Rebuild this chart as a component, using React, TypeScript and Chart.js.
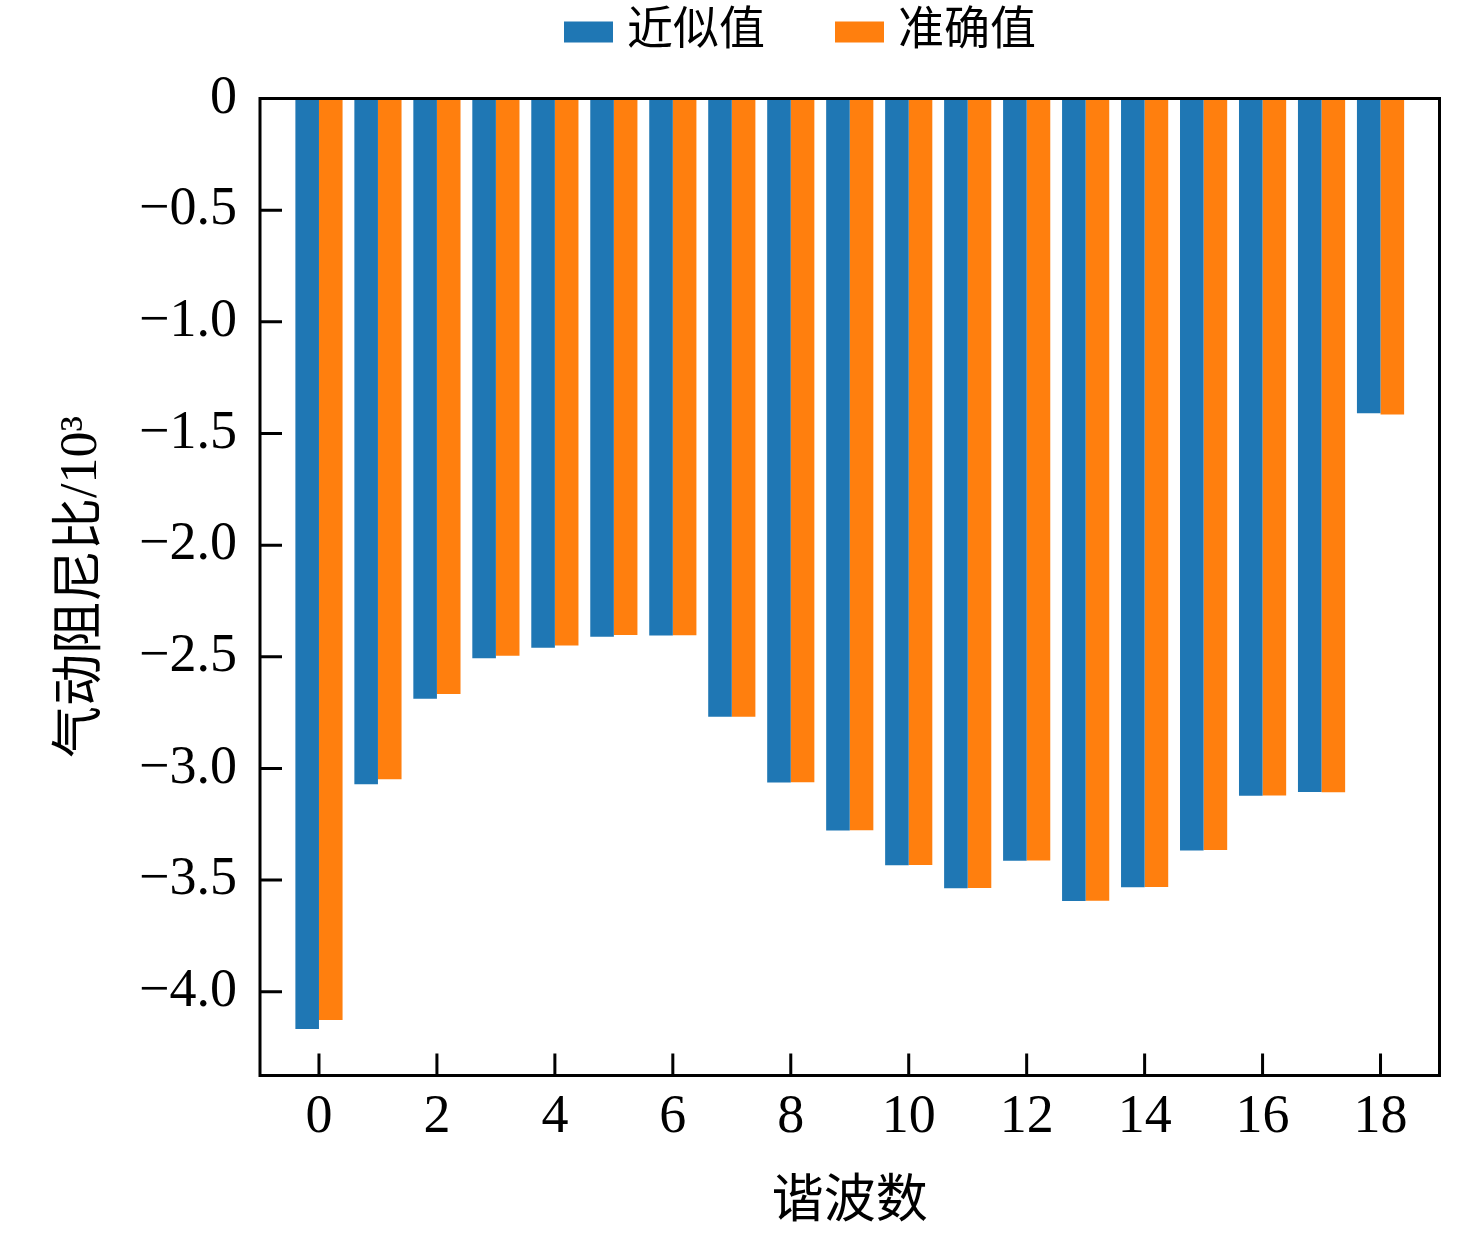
import React, { useEffect, useRef } from "react";
import { Chart, registerables } from "chart.js";

Chart.register(...registerables);

// 谐波数 (harmonic number) and the two series
const harmonics = [0, 1, 2, 3, 4, 5, 6, 7, 8, 9, 10, 11, 12, 13, 14, 15, 16, 17, 18];
const approxValues = [
  -4.167, -3.071, -2.688, -2.507, -2.459, -2.41, -2.405, -2.769, -3.063, -3.278,
  -3.433, -3.536, -3.413, -3.594, -3.532, -3.368, -3.122, -3.105, -1.41,
];
const exactValues = [
  -4.127, -3.048, -2.667, -2.495, -2.45, -2.402, -2.404, -2.768, -3.062, -3.277,
  -3.432, -3.535, -3.412, -3.593, -3.531, -3.365, -3.121, -3.107, -1.415,
];
const xTickValues = [0, 2, 4, 6, 8, 10, 12, 14, 16, 18];
const yTickValues = [0, -0.5, -1, -1.5, -2, -2.5, -3, -3.5, -4];

const seriesNames = ["近似值", "准确值"];
const seriesColors = ["#1f77b4", "#ff7f0e"];

const latinFont = "'Liberation Serif', 'Noto Sans CJK SC', serif";
const cjkFont = "'Liberation Serif', 'Noto Sans CJK SC', sans-serif";

// frame around the plot + inward tick marks
const framePlugin = {
  id: "frameTicks",
  afterDraw(chart: any) {
    const { ctx, chartArea } = chart;
    const xs = chart.scales.x;
    const ys = chart.scales.y;
    const tickLen = 22;
    ctx.save();
    ctx.strokeStyle = "#000";
    ctx.lineWidth = 3;
    ctx.beginPath();
    xs.ticks.forEach((t: any) => {
      const px = xs.getPixelForValue(t.value);
      ctx.moveTo(px, chartArea.bottom);
      ctx.lineTo(px, chartArea.bottom - tickLen);
    });
    ys.ticks.forEach((t: any) => {
      const py = ys.getPixelForValue(t.value);
      ctx.moveTo(chartArea.left, py);
      ctx.lineTo(chartArea.left + tickLen, py);
    });
    ctx.stroke();
    ctx.strokeRect(
      chartArea.left,
      chartArea.top,
      chartArea.right - chartArea.left,
      chartArea.bottom - chartArea.top
    );
    ctx.restore();
  },
};

// legend drawn by hand so it sits where the original has it
const legendPlugin = {
  id: "topLegend",
  afterDraw(chart: any) {
    const { ctx } = chart;
    const boxW = 49;
    const boxH = 21;
    const gap = 14;
    const itemGap = 70;
    const centerX = 800;
    const midY = 32;
    ctx.save();
    ctx.font = `46px ${cjkFont}`;
    const items = chart.data.datasets.map((d: any) => ({
      label: d.label,
      color: d.backgroundColor,
      w: ctx.measureText(d.label).width,
    }));
    const total =
      items.reduce((s: number, it: any) => s + boxW + gap + it.w, 0) +
      itemGap * (items.length - 1);
    let x = centerX - total / 2;
    ctx.textBaseline = "middle";
    ctx.textAlign = "left";
    items.forEach((it: any) => {
      ctx.fillStyle = it.color;
      ctx.fillRect(x, midY - boxH / 2, boxW, boxH);
      x += boxW + gap;
      ctx.fillStyle = "#000";
      ctx.fillText(it.label, x, midY);
      x += it.w + itemGap;
    });
    ctx.restore();
  },
};

const fmtTick = (v: number) => (v === 0 ? "0" : v.toFixed(1).replace("-", "\u2212"));

const DampingChart: React.FC = () => {
  const canvasRef = useRef<HTMLCanvasElement | null>(null);
  const chartRef = useRef<Chart | null>(null);

  useEffect(() => {
    if (!canvasRef.current) return;
    if (chartRef.current) chartRef.current.destroy();

    chartRef.current = new Chart(canvasRef.current, {
      type: "bar",
      data: {
        datasets: [
          {
            label: seriesNames[0],
            data: harmonics.map((h, i) => ({ x: h, y: approxValues[i] })),
            backgroundColor: seriesColors[0],
            borderWidth: 0,
          },
          {
            label: seriesNames[1],
            data: harmonics.map((h, i) => ({ x: h, y: exactValues[i] })),
            backgroundColor: seriesColors[1],
            borderWidth: 0,
          },
        ],
      },
      options: {
        animation: false,
        responsive: true,
        maintainAspectRatio: false,
        layout: { padding: { top: 98.5, right: 36.5, left: 0, bottom: 0 } },
        datasets: {
          bar: { categoryPercentage: 0.8, barPercentage: 1 },
        },
        plugins: {
          legend: { display: false },
          tooltip: { enabled: false },
        },
        scales: {
          x: {
            type: "linear",
            min: -1,
            max: 19,
            offset: false,
            grid: { display: false, drawTicks: false },
            border: { display: false },
            afterBuildTicks: (s: any) => {
              s.ticks = xTickValues.map((v) => ({ value: v }));
            },
            afterFit: (s: any) => {
              s.height = 160.5;
            },
            ticks: {
              autoSkip: false,
              maxRotation: 0,
              padding: 10,
              color: "#000",
              font: { family: latinFont, size: 54 },
              callback: (v: any) => String(v),
            },
            title: {
              display: true,
              text: "谐波数",
              color: "#000",
              font: { family: cjkFont, size: 52, lineHeight: 1 },
              padding: { top: 0, bottom: 7 },
            },
          },
          y: {
            type: "linear",
            min: -4.375,
            max: 0,
            grid: { display: false, drawTicks: false },
            border: { display: false },
            afterBuildTicks: (s: any) => {
              s.ticks = yTickValues.map((v) => ({ value: v }));
            },
            afterFit: (s: any) => {
              s.width = 260;
            },
            ticks: {
              autoSkip: false,
              padding: 23,
              color: "#000",
              font: { family: latinFont, size: 54 },
              callback: (v: any) => fmtTick(Number(v)),
            },
            title: {
              display: true,
              text: "气动阻尼比/10³",
              color: "#000",
              font: { family: cjkFont, size: 52, lineHeight: 1 },
              padding: { top: 56, bottom: 0 },
            },
          },
        },
      },
      plugins: [framePlugin, legendPlugin],
    });

    return () => {
      if (chartRef.current) {
        chartRef.current.destroy();
        chartRef.current = null;
      }
    };
  }, []);

  return <canvas ref={canvasRef} />;
};

export default function App() {
  return (
    <div
      style={{
        position: "fixed",
        left: 0,
        top: 0,
        width: 1476,
        height: 1236,
        background: "#fff",
      }}
    >
      <DampingChart />
    </div>
  );
}
